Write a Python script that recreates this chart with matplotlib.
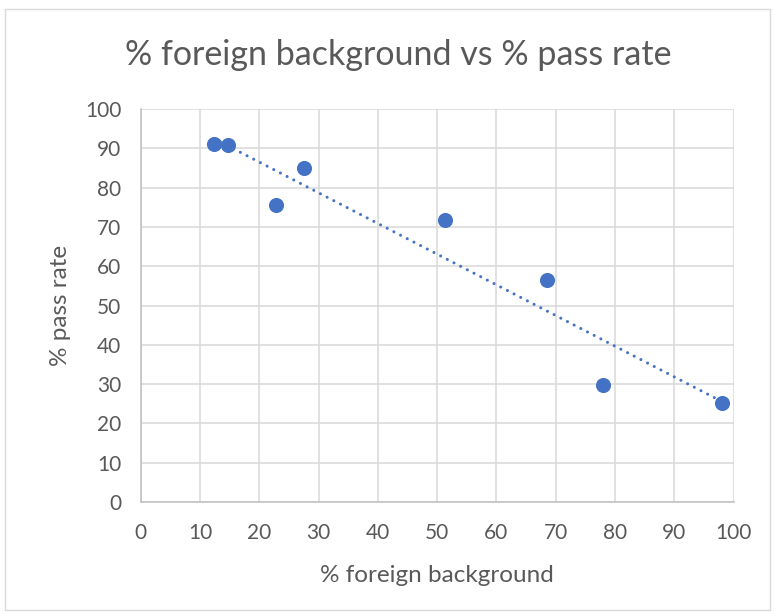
import numpy as np
import matplotlib
matplotlib.use("Agg")
from matplotlib import pyplot as plt
from matplotlib.patches import Rectangle

plt.rcParams['font.family'] = ['Lato', 'DejaVu Sans']

# share of pupils with a foreign background vs pass rate, per school
foreign_pct = [12.3, 14.7, 22.9, 27.5, 51.4, 68.5, 77.9, 98.0]
pass_pct = [91.0, 90.8, 75.5, 85.1, 71.8, 56.5, 29.7, 25.1]

x_ticks = list(range(0, 101, 10))
y_ticks = list(range(0, 101, 10))

blue = "#4472C4"
grey_text = "#595959"
grid_col = "#D9D9D9"

fig = plt.figure(figsize=(7.74, 6.14), dpi=100)
ax = fig.add_axes([0.1818, 0.1824, 0.766, 0.640])

# light frame round the whole chart
fig.patches.append(Rectangle((0.007, 0.006), 0.988, 0.979, transform=fig.transFigure,
                             fill=False, edgecolor="#D9D9D9", linewidth=1))

ax.scatter(foreign_pct, pass_pct, s=118, color=blue, zorder=3, linewidths=0)

# linear trendline over the range of the data
slope, intercept = np.polyfit(foreign_pct, pass_pct, 1)
tx = np.array([min(foreign_pct), max(foreign_pct)])
ax.plot(tx, slope * tx + intercept, color=blue, linewidth=2.2,
        linestyle=(0, (0.01, 2.45)), dash_capstyle="round", zorder=2)

ax.set_xlim(0, 100)
ax.set_ylim(0, 100)
ax.set_xticks(x_ticks)
ax.set_yticks(y_ticks)
ax.grid(True, color=grid_col, linewidth=1.1)
ax.set_axisbelow(True)
for s in ["top", "right"]:
    ax.spines[s].set_visible(False)
for s in ["left", "bottom"]:
    ax.spines[s].set_color("#BFBFBF")
    ax.spines[s].set_linewidth(1.1)
ax.tick_params(length=0, labelsize=15, labelcolor=grey_text)
ax.tick_params(axis="x", pad=15)
ax.tick_params(axis="y", pad=14)

ax.set_xlabel("% foreign background", fontsize=17.5, color=grey_text, labelpad=16)
ax.set_ylabel("% pass rate", fontsize=17.5, color=grey_text, labelpad=10)
fig.text(0.515, 0.91, "% foreign background vs % pass rate", ha="center", va="center",
         fontsize=24.5, color=grey_text)

fig.savefig("out.png", dpi=100)
